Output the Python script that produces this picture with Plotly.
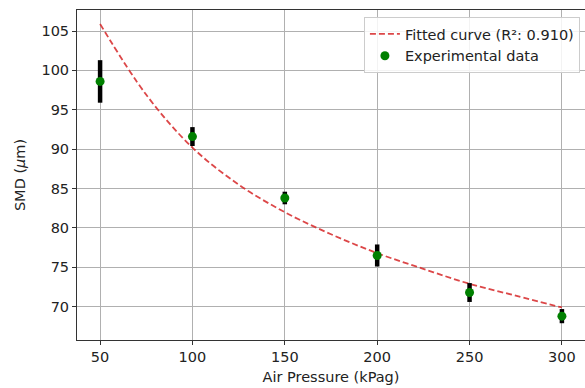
import plotly.graph_objects as go

# Experimental data
pressure = [50, 100, 150, 200, 250, 300]
smd = [98.6, 91.6, 83.8, 76.5, 71.8, 68.8]
smd_err = [2.7, 1.2, 0.8, 1.4, 1.2, 0.9]

# Fitted curve, values
fit_x = [50, 75, 100, 125, 150, 175, 200, 225, 250, 275, 300]
fit_y = [105.9, 96.9, 90.2, 85.5, 82.0, 79.2, 76.8, 74.8, 72.9, 71.4, 69.9]

x_ticks = [50, 100, 150, 200, 250, 300]
y_ticks = [70, 75, 80, 85, 90, 95, 100, 105]

FONT = "DejaVu Sans"
FS = 14.5

fig = go.Figure()
fig.add_trace(go.Scatter(
    x=fit_x, y=fit_y, mode="lines",
    line=dict(color="rgba(214,39,40,0.85)", width=1.8, dash="6px,3px", shape="spline"),
    name="Fitted curve (R²: 0.910)",
))
fig.add_trace(go.Scatter(
    x=pressure, y=smd, mode="markers",
    marker=dict(color="green", size=9),
    error_y=dict(type="data", array=smd_err, color="black", thickness=4.5, width=0),
    name="Experimental data",
))

axis_common = dict(
    showline=True, mirror=True, linecolor="#333", linewidth=1,
    showgrid=True, gridcolor="#b0b0b0", gridwidth=0.8,
    ticks="outside", ticklen=4, tickcolor="#333",
    zeroline=False,
    tickfont=dict(family=FONT, size=FS, color="#222"),
    title_font=dict(family=FONT, size=FS, color="#222"),
)

fig.update_layout(
    width=585, height=388,
    margin=dict(l=77, r=0, t=10, b=48),
    paper_bgcolor="white", plot_bgcolor="white",
    showlegend=True,
    legend=dict(
        x=0.99, y=0.979, xanchor="right", yanchor="top",
        bgcolor="rgba(255,255,255,0.85)", bordercolor="#cccccc", borderwidth=1,
        font=dict(family=FONT, size=FS, color="#222"),
    ),
    xaxis=dict(range=[37.5, 312.5], tickvals=x_ticks, title=dict(text="Air Pressure (kPag)", standoff=7), **axis_common),
    yaxis=dict(range=[65.77, 107.67], tickvals=y_ticks, title=dict(text="SMD (<i>μ</i>m)", standoff=12), **axis_common),
)

fig.write_html("out.html")
